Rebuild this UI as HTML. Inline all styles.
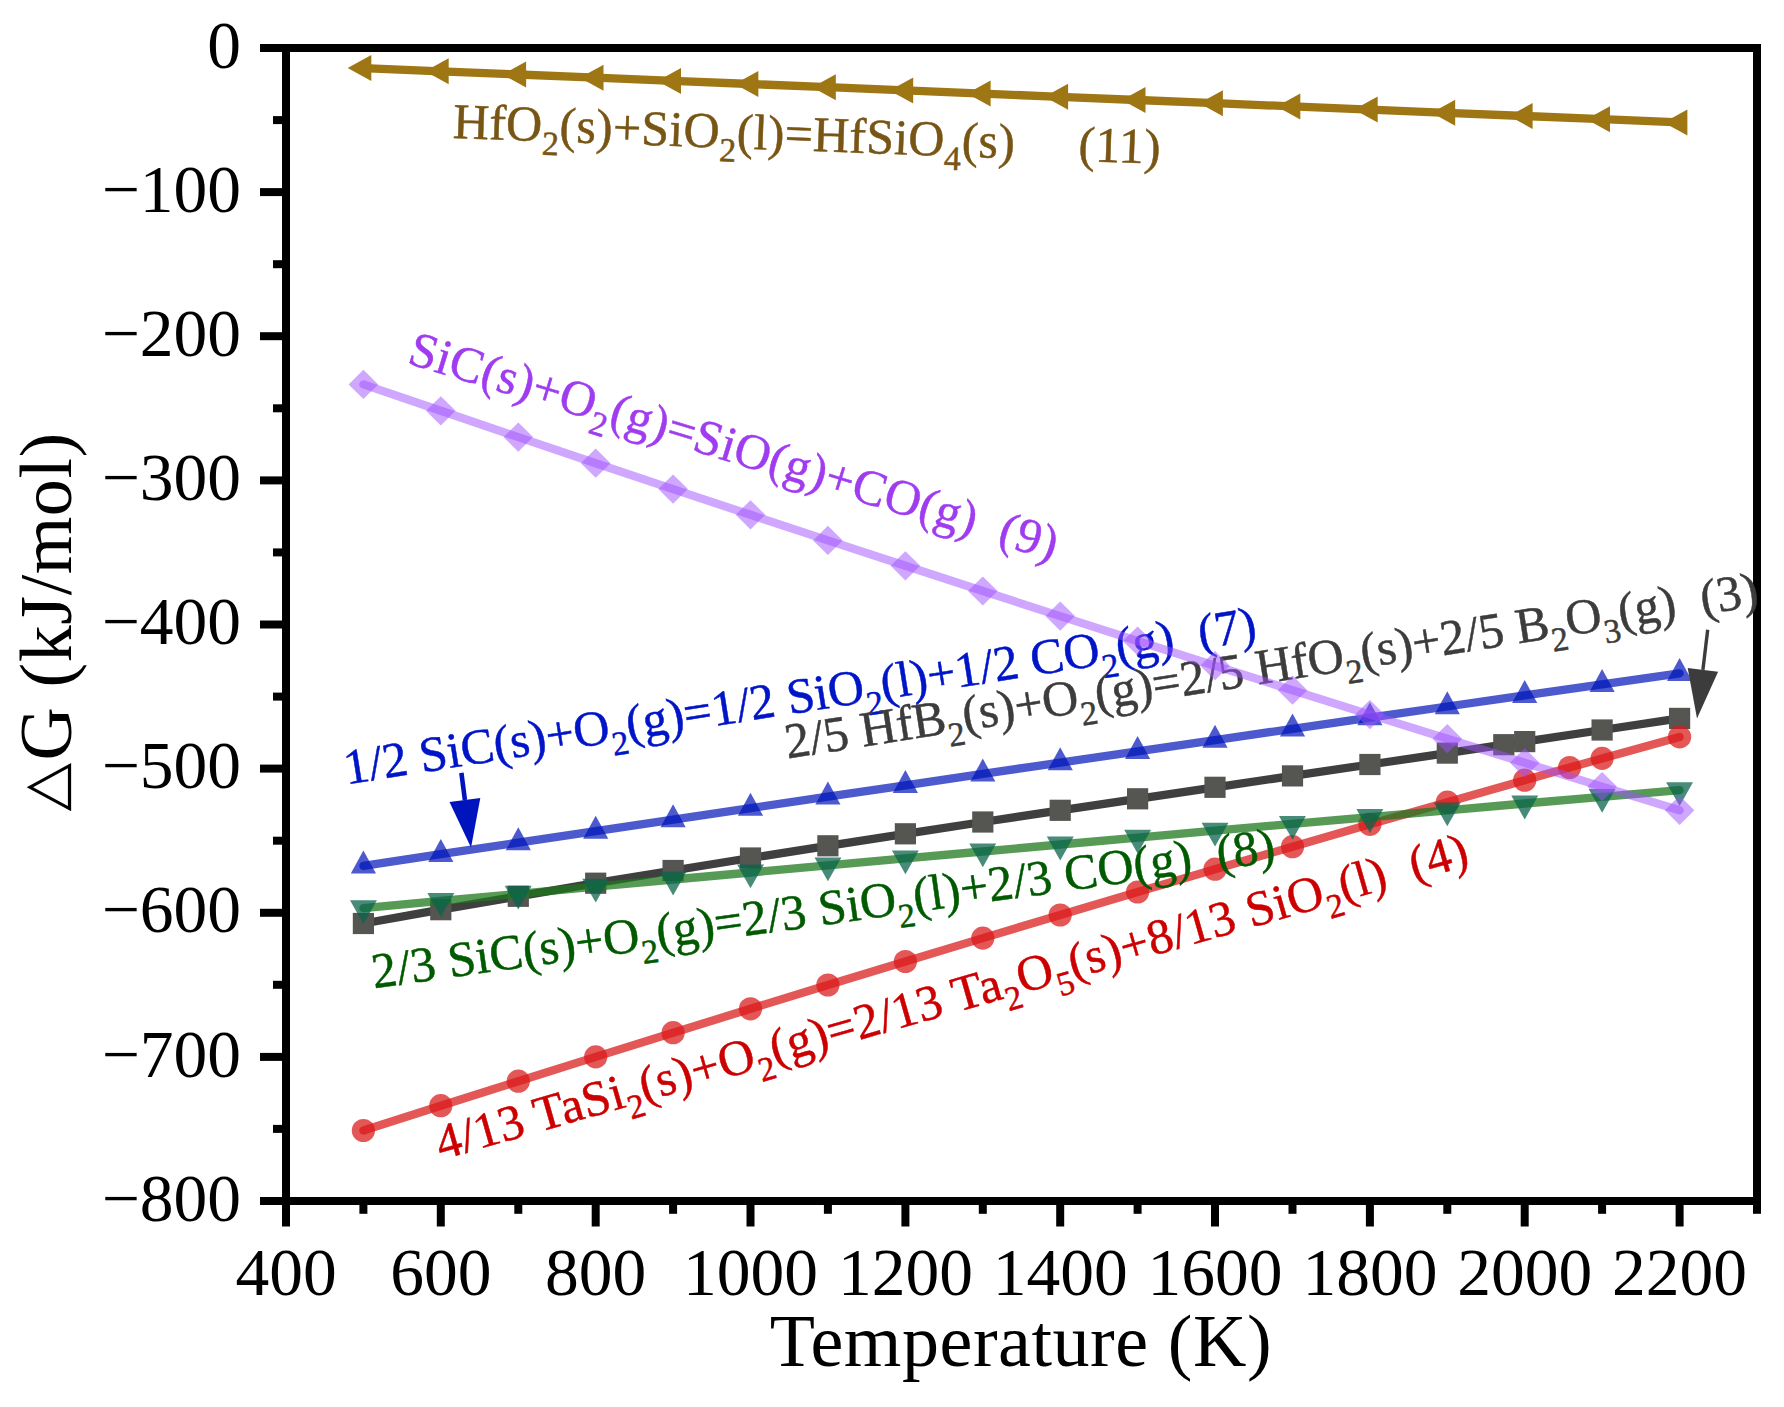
<!DOCTYPE html>
<html lang="en"><head><meta charset="utf-8"><title>Gibbs free energy of oxidation reactions</title>
<style>
html,body{margin:0;padding:0;background:#fff;}
body{width:1784px;height:1407px;overflow:hidden;}
svg{display:block;}
text{font-family:"Liberation Serif","Times New Roman",serif;}
.tick{font-size:67.5px;fill:#000;}
.title{font-size:74px;fill:#000;letter-spacing:0.55px;}
.lab{font-size:50px;stroke-width:0.5px;white-space:pre;}
.sub{font-size:34px;}
</style></head><body>
<svg width="1784" height="1407" viewBox="0 0 1784 1407">
<rect width="1784" height="1407" fill="#fff"/>
<path d="M363.4 923.5 L440.8 909.7 L518.3 896.3 L595.7 883.2 L673.1 870.5 L750.5 858.0 L827.9 845.8 L905.4 833.8 L982.8 822.0 L1060.2 810.3 L1137.6 798.8 L1215.0 787.3 L1292.5 775.9 L1369.9 764.5 L1447.3 753.1 L1503.8 744.7 L1524.7 741.6 L1602.1 730.0 L1679.6 718.4" fill="none" stroke="#3f3f3f" stroke-width="8.3" stroke-opacity="1.00" stroke-linecap="round" stroke-linejoin="round"/>
<g fill="#555552" fill-opacity="1.00">
<rect x="352.8" y="912.9" width="21.2" height="21.2"/>
<rect x="430.2" y="899.1" width="21.2" height="21.2"/>
<rect x="507.7" y="885.7" width="21.2" height="21.2"/>
<rect x="585.1" y="872.6" width="21.2" height="21.2"/>
<rect x="662.5" y="859.9" width="21.2" height="21.2"/>
<rect x="739.9" y="847.4" width="21.2" height="21.2"/>
<rect x="817.3" y="835.2" width="21.2" height="21.2"/>
<rect x="894.8" y="823.2" width="21.2" height="21.2"/>
<rect x="972.2" y="811.4" width="21.2" height="21.2"/>
<rect x="1049.6" y="799.7" width="21.2" height="21.2"/>
<rect x="1127.0" y="788.2" width="21.2" height="21.2"/>
<rect x="1204.4" y="776.7" width="21.2" height="21.2"/>
<rect x="1281.9" y="765.3" width="21.2" height="21.2"/>
<rect x="1359.3" y="753.9" width="21.2" height="21.2"/>
<rect x="1436.7" y="742.5" width="21.2" height="21.2"/>
<rect x="1493.2" y="734.1" width="21.2" height="21.2"/>
<rect x="1514.1" y="731.0" width="21.2" height="21.2"/>
<rect x="1591.5" y="719.4" width="21.2" height="21.2"/>
<rect x="1669.0" y="707.8" width="21.2" height="21.2"/>
</g>
<path d="M363.4 1130.5 L440.8 1105.7 L518.3 1081.2 L595.7 1056.9 L673.1 1032.7 L750.5 1008.8 L827.9 985.0 L905.4 961.5 L982.8 938.1 L1060.2 915.0 L1137.6 892.0 L1215.0 869.2 L1292.5 846.7 L1369.9 824.3 L1447.3 802.2 L1524.7 780.2 L1569.6 767.5 L1602.1 758.4 L1679.6 736.9" fill="none" stroke="#da1818" stroke-width="8.3" stroke-opacity="0.73" stroke-linecap="round" stroke-linejoin="round"/>
<g fill="#da1818" fill-opacity="0.73">
<circle cx="363.4" cy="1130.5" r="11.6"/>
<circle cx="440.8" cy="1105.7" r="11.6"/>
<circle cx="518.3" cy="1081.2" r="11.6"/>
<circle cx="595.7" cy="1056.9" r="11.6"/>
<circle cx="673.1" cy="1032.7" r="11.6"/>
<circle cx="750.5" cy="1008.8" r="11.6"/>
<circle cx="827.9" cy="985.0" r="11.6"/>
<circle cx="905.4" cy="961.5" r="11.6"/>
<circle cx="982.8" cy="938.1" r="11.6"/>
<circle cx="1060.2" cy="915.0" r="11.6"/>
<circle cx="1137.6" cy="892.0" r="11.6"/>
<circle cx="1215.0" cy="869.2" r="11.6"/>
<circle cx="1292.5" cy="846.7" r="11.6"/>
<circle cx="1369.9" cy="824.3" r="11.6"/>
<circle cx="1447.3" cy="802.2" r="11.6"/>
<circle cx="1524.7" cy="780.2" r="11.6"/>
<circle cx="1569.6" cy="767.5" r="11.6"/>
<circle cx="1602.1" cy="758.4" r="11.6"/>
<circle cx="1679.6" cy="736.9" r="11.6"/>
</g>
<path d="M363.4 865.8 L440.8 854.2 L518.3 842.6 L595.7 831.1 L673.1 819.6 L750.5 808.1 L827.9 796.7 L905.4 785.3 L982.8 773.9 L1060.2 762.6 L1137.6 751.3 L1215.0 740.1 L1292.5 728.8 L1369.9 717.7 L1447.3 706.5 L1524.7 695.4 L1602.1 684.3 L1679.6 673.3" fill="none" stroke="#0014b9" stroke-width="8.3" stroke-opacity="0.70" stroke-linecap="round" stroke-linejoin="round"/>
<g fill="#0014b9" fill-opacity="0.70">
<path d="M363.4 850.5 L376.0 873.5 L350.8 873.5 Z"/>
<path d="M440.8 838.9 L453.4 861.9 L428.2 861.9 Z"/>
<path d="M518.3 827.3 L530.9 850.3 L505.7 850.3 Z"/>
<path d="M595.7 815.8 L608.3 838.8 L583.1 838.8 Z"/>
<path d="M673.1 804.3 L685.7 827.3 L660.5 827.3 Z"/>
<path d="M750.5 792.8 L763.1 815.8 L737.9 815.8 Z"/>
<path d="M827.9 781.4 L840.5 804.4 L815.3 804.4 Z"/>
<path d="M905.4 770.0 L918.0 793.0 L892.8 793.0 Z"/>
<path d="M982.8 758.6 L995.4 781.6 L970.2 781.6 Z"/>
<path d="M1060.2 747.3 L1072.8 770.3 L1047.6 770.3 Z"/>
<path d="M1137.6 736.0 L1150.2 759.0 L1125.0 759.0 Z"/>
<path d="M1215.0 724.7 L1227.6 747.7 L1202.4 747.7 Z"/>
<path d="M1292.5 713.5 L1305.1 736.5 L1279.9 736.5 Z"/>
<path d="M1369.9 702.3 L1382.5 725.3 L1357.3 725.3 Z"/>
<path d="M1447.3 691.2 L1459.9 714.2 L1434.7 714.2 Z"/>
<path d="M1524.7 680.1 L1537.3 703.1 L1512.1 703.1 Z"/>
<path d="M1602.1 669.0 L1614.7 692.0 L1589.5 692.0 Z"/>
<path d="M1679.6 657.9 L1692.2 680.9 L1667.0 680.9 Z"/>
</g>
<path d="M363.4 908.1 L440.8 900.9 L518.3 893.8 L595.7 886.6 L673.1 879.5 L750.5 872.5 L827.9 865.4 L905.4 858.4 L982.8 851.5 L1060.2 844.5 L1137.6 837.6 L1215.0 830.7 L1292.5 823.9 L1369.9 817.1 L1447.3 810.3 L1524.7 803.5 L1602.1 796.8 L1679.6 790.1" fill="none" stroke="#1e781e" stroke-width="8.3" stroke-opacity="0.75" stroke-linecap="round" stroke-linejoin="round"/>
<g fill="#0a644b" fill-opacity="0.75">
<path d="M363.4 924.0 L376.9 900.2 L350.0 900.2 Z"/>
<path d="M440.8 916.8 L454.3 893.0 L427.4 893.0 Z"/>
<path d="M518.3 909.6 L531.7 885.8 L504.8 885.8 Z"/>
<path d="M595.7 902.5 L609.1 878.7 L582.2 878.7 Z"/>
<path d="M673.1 895.4 L686.6 871.6 L659.6 871.6 Z"/>
<path d="M750.5 888.3 L764.0 864.5 L737.1 864.5 Z"/>
<path d="M827.9 881.3 L841.4 857.5 L814.5 857.5 Z"/>
<path d="M905.4 874.3 L918.8 850.5 L891.9 850.5 Z"/>
<path d="M982.8 867.3 L996.2 843.5 L969.3 843.5 Z"/>
<path d="M1060.2 860.4 L1073.7 836.6 L1046.8 836.6 Z"/>
<path d="M1137.6 853.5 L1151.1 829.7 L1124.2 829.7 Z"/>
<path d="M1215.0 846.6 L1228.5 822.8 L1201.6 822.8 Z"/>
<path d="M1292.5 839.8 L1305.9 816.0 L1279.0 816.0 Z"/>
<path d="M1369.9 832.9 L1383.3 809.1 L1356.4 809.1 Z"/>
<path d="M1447.3 826.2 L1460.8 802.4 L1433.8 802.4 Z"/>
<path d="M1524.7 819.4 L1538.2 795.6 L1511.3 795.6 Z"/>
<path d="M1602.1 812.7 L1615.6 788.9 L1588.7 788.9 Z"/>
<path d="M1679.6 806.0 L1693.0 782.2 L1666.1 782.2 Z"/>
</g>
<path d="M363.4 68.1 L440.8 71.3 L518.3 74.5 L595.7 77.7 L673.1 80.9 L750.5 84.0 L827.9 87.2 L905.4 90.4 L982.8 93.6 L1060.2 96.8 L1137.6 100.0 L1215.0 103.2 L1292.5 106.4 L1369.9 109.6 L1447.3 112.8 L1524.7 116.0 L1602.1 119.2 L1679.6 122.4" fill="none" stroke="#9e7614" stroke-width="8.3" stroke-opacity="1.00" stroke-linecap="round" stroke-linejoin="round"/>
<g fill="#9e7614" fill-opacity="1.00">
<path d="M347.7 68.1 L371.3 55.1 L371.3 81.1 Z"/>
<path d="M425.1 71.3 L448.7 58.3 L448.7 84.3 Z"/>
<path d="M502.5 74.5 L526.1 61.5 L526.1 87.5 Z"/>
<path d="M579.9 77.7 L603.5 64.7 L603.5 90.7 Z"/>
<path d="M657.4 80.9 L681.0 67.9 L681.0 93.9 Z"/>
<path d="M734.8 84.0 L758.4 71.0 L758.4 97.0 Z"/>
<path d="M812.2 87.2 L835.8 74.2 L835.8 100.2 Z"/>
<path d="M889.6 90.4 L913.2 77.4 L913.2 103.4 Z"/>
<path d="M967.0 93.6 L990.6 80.6 L990.6 106.6 Z"/>
<path d="M1044.5 96.8 L1068.1 83.8 L1068.1 109.8 Z"/>
<path d="M1121.9 100.0 L1145.5 87.0 L1145.5 113.0 Z"/>
<path d="M1199.3 103.2 L1222.9 90.2 L1222.9 116.2 Z"/>
<path d="M1276.7 106.4 L1300.3 93.4 L1300.3 119.4 Z"/>
<path d="M1354.1 109.6 L1377.7 96.6 L1377.7 122.6 Z"/>
<path d="M1431.6 112.8 L1455.2 99.8 L1455.2 125.8 Z"/>
<path d="M1509.0 116.0 L1532.6 103.0 L1532.6 129.0 Z"/>
<path d="M1586.4 119.2 L1610.0 106.2 L1610.0 132.2 Z"/>
<path d="M1663.8 122.4 L1687.4 109.4 L1687.4 135.4 Z"/>
</g>
<g stroke="#000" stroke-width="8" fill="none" stroke-linecap="butt">
<rect x="286.0" y="48.0" width="1471.0" height="1153.0"/>
<path d="M260.0 48.0 H286.0"/>
<path d="M273.0 120.1 H286.0"/>
<path d="M260.0 192.1 H286.0"/>
<path d="M273.0 264.2 H286.0"/>
<path d="M260.0 336.2 H286.0"/>
<path d="M273.0 408.3 H286.0"/>
<path d="M260.0 480.4 H286.0"/>
<path d="M273.0 552.4 H286.0"/>
<path d="M260.0 624.5 H286.0"/>
<path d="M273.0 696.6 H286.0"/>
<path d="M260.0 768.6 H286.0"/>
<path d="M273.0 840.7 H286.0"/>
<path d="M260.0 912.8 H286.0"/>
<path d="M273.0 984.8 H286.0"/>
<path d="M260.0 1056.9 H286.0"/>
<path d="M273.0 1128.9 H286.0"/>
<path d="M260.0 1201.0 H286.0"/>
<path d="M286.0 1201.0 V1226.5"/>
<path d="M363.4 1201.0 V1213.8"/>
<path d="M440.8 1201.0 V1226.5"/>
<path d="M518.3 1201.0 V1213.8"/>
<path d="M595.7 1201.0 V1226.5"/>
<path d="M673.1 1201.0 V1213.8"/>
<path d="M750.5 1201.0 V1226.5"/>
<path d="M827.9 1201.0 V1213.8"/>
<path d="M905.4 1201.0 V1226.5"/>
<path d="M982.8 1201.0 V1213.8"/>
<path d="M1060.2 1201.0 V1226.5"/>
<path d="M1137.6 1201.0 V1213.8"/>
<path d="M1215.0 1201.0 V1226.5"/>
<path d="M1292.5 1201.0 V1213.8"/>
<path d="M1369.9 1201.0 V1226.5"/>
<path d="M1447.3 1201.0 V1213.8"/>
<path d="M1524.7 1201.0 V1226.5"/>
<path d="M1602.1 1201.0 V1213.8"/>
<path d="M1679.6 1201.0 V1226.5"/>
<path d="M1757.0 1201.0 V1213.8"/>
</g>
<g class="tick" text-anchor="end">
<text x="241.0" y="67.6">0</text>
<text x="241.0" y="211.7">−100</text>
<text x="241.0" y="355.9">−200</text>
<text x="241.0" y="500.0">−300</text>
<text x="241.0" y="644.1">−400</text>
<text x="241.0" y="788.2">−500</text>
<text x="241.0" y="932.4">−600</text>
<text x="241.0" y="1076.5">−700</text>
<text x="241.0" y="1220.6">−800</text>
</g>
<g class="tick" text-anchor="middle">
<text x="286.0" y="1294.8">400</text>
<text x="440.8" y="1294.8">600</text>
<text x="595.7" y="1294.8">800</text>
<text x="750.5" y="1294.8">1000</text>
<text x="905.4" y="1294.8">1200</text>
<text x="1060.2" y="1294.8">1400</text>
<text x="1215.0" y="1294.8">1600</text>
<text x="1369.9" y="1294.8">1800</text>
<text x="1524.7" y="1294.8">2000</text>
<text x="1679.6" y="1294.8">2200</text>
</g>
<text class="title" text-anchor="middle" x="1021" y="1366">Temperature (K)</text>
<text class="title" transform="translate(70.5 760.5) rotate(-90)">G (kJ/mol)</text>
<text class="title" style="font-family:'DejaVu Sans','Noto Sans CJK SC',sans-serif" transform="translate(63.8 811.4) rotate(-90) scale(0.855 0.785)">△</text>
<path d="M461.4 772.9 L464.9 800.0" stroke="#0014be" stroke-width="4.6" fill="none"/>
<path d="M471.0 847.6 L449.5 802.0 L480.3 798.0 Z" fill="#0014be"/>
<path d="M1707.7 629.8 L1702.9 669.9" stroke="#3c3c3c" stroke-width="3.4" fill="none"/>
<path d="M1697.0 718.5 L1687.7 668.0 L1718.1 671.7 Z" fill="#3c3c3c"/>
<text class="lab" xml:space="preserve" fill="#785514" stroke="#785514" transform="translate(452.5 137.9) rotate(2.10)" textLength="708" lengthAdjust="spacing">HfO<tspan class="sub" dy="13.5">2</tspan><tspan dy="-13.5">(s)+SiO</tspan><tspan class="sub" dy="13.5">2</tspan><tspan dy="-13.5">(l)=HfSiO</tspan><tspan class="sub" dy="13.5">4</tspan><tspan dy="-13.5">(s)     (11)</tspan></text>
<text class="lab" xml:space="preserve" fill="#a03cf0" stroke="#a03cf0" transform="translate(406.0 363.0) rotate(17.00)" textLength="676" lengthAdjust="spacing">SiC(s)+O<tspan class="sub" dy="13.5">2</tspan><tspan dy="-13.5">(g)=SiO(g)+CO(g)  (9)</tspan></text>
<text class="lab" xml:space="preserve" fill="#0014c8" stroke="#0014c8" transform="translate(346.5 784.4) rotate(-9.00)">1/2 SiC(s)+O<tspan class="sub" dy="13.5">2</tspan><tspan dy="-13.5">(g)=1/2 SiO</tspan><tspan class="sub" dy="13.5">2</tspan><tspan dy="-13.5">(l)+1/2 CO</tspan><tspan class="sub" dy="13.5">2</tspan><tspan dy="-13.5">(g)  (7)</tspan></text>
<text class="lab" xml:space="preserve" fill="#3c3c3c" stroke="#3c3c3c" transform="translate(787.5 758.6) rotate(-8.95)">2/5 HfB<tspan class="sub" dy="13.5">2</tspan><tspan dy="-13.5">(s)+O</tspan><tspan class="sub" dy="13.5">2</tspan><tspan dy="-13.5">(g)=2/5 HfO</tspan><tspan class="sub" dy="13.5">2</tspan><tspan dy="-13.5">(s)+2/5 B</tspan><tspan class="sub" dy="13.5">2</tspan><tspan dy="-13.5">O</tspan><tspan class="sub" dy="13.5">3</tspan><tspan dy="-13.5">(g)  (3)</tspan></text>
<text class="lab" xml:space="preserve" fill="#005a00" stroke="#005a00" transform="translate(374.0 988.2) rotate(-8.00)" textLength="911.5" lengthAdjust="spacing">2/3 SiC(s)+O<tspan class="sub" dy="13.5">2</tspan><tspan dy="-13.5">(g)=2/3 SiO</tspan><tspan class="sub" dy="13.5">2</tspan><tspan dy="-13.5">(l)+2/3 CO(g)  (8)</tspan></text>
<text class="lab" xml:space="preserve" fill="#cc0000" stroke="#cc0000" transform="translate(441.0 1160.0) rotate(-16.00)" textLength="1071.5" lengthAdjust="spacing">4/13 TaSi<tspan class="sub" dy="13.5">2</tspan><tspan dy="-13.5">(s)+O</tspan><tspan class="sub" dy="13.5">2</tspan><tspan dy="-13.5">(g)=2/13 Ta</tspan><tspan class="sub" dy="13.5">2</tspan><tspan dy="-13.5">O</tspan><tspan class="sub" dy="13.5">5</tspan><tspan dy="-13.5">(s)+8/13 SiO</tspan><tspan class="sub" dy="13.5">2</tspan><tspan dy="-13.5">(l)  (4)</tspan></text>
<path d="M363.4 384.4 L440.8 410.8 L518.3 437.1 L595.7 463.2 L673.1 489.1 L750.5 514.8 L827.9 540.4 L905.4 565.8 L982.8 591.0 L1060.2 616.1 L1137.6 641.0 L1215.0 665.7 L1292.5 690.2 L1369.9 714.6 L1447.3 738.7 L1524.7 762.8 L1602.1 786.6 L1679.6 810.3" fill="none" stroke="#a050ff" stroke-width="8.3" stroke-opacity="0.50" stroke-linecap="round" stroke-linejoin="round"/>
<g fill="#a050ff" fill-opacity="0.50">
<path d="M363.4 369.8 L378.2 384.4 L363.4 399.0 L348.6 384.4 Z"/>
<path d="M440.8 396.2 L455.6 410.8 L440.8 425.4 L426.0 410.8 Z"/>
<path d="M518.3 422.5 L533.1 437.1 L518.3 451.7 L503.5 437.1 Z"/>
<path d="M595.7 448.6 L610.5 463.2 L595.7 477.8 L580.9 463.2 Z"/>
<path d="M673.1 474.5 L687.9 489.1 L673.1 503.7 L658.3 489.1 Z"/>
<path d="M750.5 500.2 L765.3 514.8 L750.5 529.4 L735.7 514.8 Z"/>
<path d="M827.9 525.8 L842.7 540.4 L827.9 555.0 L813.1 540.4 Z"/>
<path d="M905.4 551.2 L920.2 565.8 L905.4 580.4 L890.6 565.8 Z"/>
<path d="M982.8 576.4 L997.6 591.0 L982.8 605.6 L968.0 591.0 Z"/>
<path d="M1060.2 601.5 L1075.0 616.1 L1060.2 630.7 L1045.4 616.1 Z"/>
<path d="M1137.6 626.4 L1152.4 641.0 L1137.6 655.6 L1122.8 641.0 Z"/>
<path d="M1215.0 651.1 L1229.8 665.7 L1215.0 680.3 L1200.2 665.7 Z"/>
<path d="M1292.5 675.6 L1307.3 690.2 L1292.5 704.8 L1277.7 690.2 Z"/>
<path d="M1369.9 700.0 L1384.7 714.6 L1369.9 729.2 L1355.1 714.6 Z"/>
<path d="M1447.3 724.1 L1462.1 738.7 L1447.3 753.3 L1432.5 738.7 Z"/>
<path d="M1524.7 748.2 L1539.5 762.8 L1524.7 777.4 L1509.9 762.8 Z"/>
<path d="M1602.1 772.0 L1616.9 786.6 L1602.1 801.2 L1587.3 786.6 Z"/>
<path d="M1679.6 795.7 L1694.4 810.3 L1679.6 824.9 L1664.8 810.3 Z"/>
</g>
</svg>
</body></html>
